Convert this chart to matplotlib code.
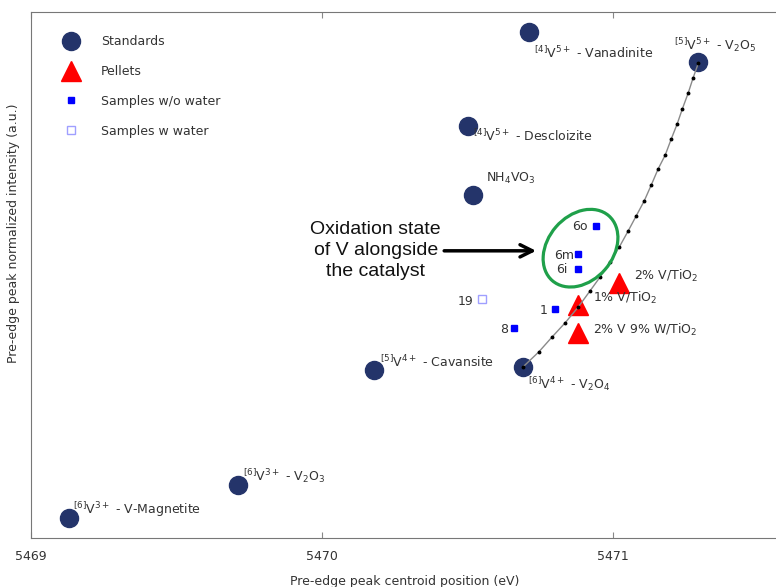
import numpy as np
import matplotlib
matplotlib.use('Agg')
import matplotlib.pyplot as plt
from matplotlib.patches import Ellipse
from matplotlib import transforms

# standards
std_x = [5469.13, 5469.71, 5470.18, 5470.69, 5470.52, 5470.50, 5470.71, 5471.29]
std_y = [0.038, 0.101, 0.319, 0.325, 0.652, 0.783, 0.962, 0.905]
std_labels = [r'$^{[6]}$V$^{3+}$ - V-Magnetite',
              r'$^{[6]}$V$^{3+}$ - V$_2$O$_3$',
              r'$^{[5]}$V$^{4+}$ - Cavansite',
              r'$^{[6]}$V$^{4+}$ - V$_2$O$_4$',
              r'NH$_4$VO$_3$',
              r'$^{[4]}$V$^{5+}$ - Descloizite',
              r'$^{[4]}$V$^{5+}$ - Vanadinite',
              r'$^{[5]}$V$^{5+}$ - V$_2$O$_5$']
std_off = [(3, 6), (4, 6.5), (4, 6), (4, -12), (9, 12), (4, -7), (3.6, -15), (-17, 12)]

# pellets
pel_x = [5471.02, 5470.88, 5470.88]
pel_y = [0.485, 0.443, 0.390]
pel_labels = [r'2% V/TiO$_2$', r'1% V/TiO$_2$', r'2% V 9% W/TiO$_2$']
pel_off = [(11, 5), (11, 5), (11, 2)]

# samples without water
smp_x = [5470.94, 5470.88, 5470.88, 5470.80, 5470.66]
smp_y = [0.593, 0.540, 0.511, 0.435, 0.399]
smp_labels = ['6o', '6m', '6i', '1', '8']
smp_off = [(-6, 0), (-3, -1), (-8, 0), (-5, -1), (-4, -1)]

# samples with water
wat_x = [5470.55]
wat_y = [0.454]
wat_labels = ['19']
wat_off = [(-6, -2)]

# mixing curve V2O4 -> V2O5
mix_x = [5470.690, 5470.745, 5470.790, 5470.835, 5470.880, 5470.921, 5470.955,
         5470.990, 5471.021, 5471.052, 5471.079, 5471.107, 5471.131, 5471.155,
         5471.179, 5471.200, 5471.220, 5471.238, 5471.258, 5471.275, 5471.293]
mix_y = [0.325, 0.354, 0.382, 0.409, 0.439, 0.470, 0.496, 0.525, 0.553, 0.584,
         0.612, 0.641, 0.671, 0.702, 0.728, 0.759, 0.787, 0.816, 0.846, 0.875, 0.903]

txt_col = '#333333'
plt.rcParams['font.family'] = ['DejaVu Sans']
plt.rcParams['font.size'] = 9

fig = plt.figure(figsize=(7.76, 5.87), dpi=100)
ax = fig.add_axes([0.040, 0.0835, 0.962, 0.896])

ax.plot(std_x, std_y, 'o', color='#24346a', markersize=13, linestyle='none',
        label='Standards', zorder=3)
ax.plot(pel_x, pel_y, '^', color='#ff0000', markersize=14, linestyle='none',
        label='Pellets', zorder=3)
ax.plot(smp_x, smp_y, 's', color='#0000ff', markersize=4.5, linestyle='none',
        label='Samples w/o water', zorder=3)
ax.plot(wat_x, wat_y, 's', markerfacecolor='white', markeredgecolor='#9f9fff',
        markersize=6, linestyle='none', label='Samples w water', zorder=3)
ax.plot(mix_x, mix_y, color='#8a8a8a', lw=1, marker='o', markersize=1.8,
        markerfacecolor='black', markeredgecolor='black', zorder=4)

for xs, ys, labs, offs, ha in [(std_x, std_y, std_labels, std_off, 'left'),
                               (pel_x, pel_y, pel_labels, pel_off, 'left'),
                               (smp_x, smp_y, smp_labels, smp_off, 'right'),
                               (wat_x, wat_y, wat_labels, wat_off, 'right')]:
    for x, y, lab, off in zip(xs, ys, labs, offs):
        ax.annotate(lab, (x, y), xytext=off, textcoords='offset points',
                    ha=ha, va='center', color=txt_col, fontsize=9, zorder=5)

# green ellipse around samples 6
tr = fig.dpi_scale_trans + transforms.ScaledTranslation(5470.888, 0.551, ax.transData)
ax.add_patch(Ellipse((0, 0), 0.86, 0.65, angle=49, fill=False,
                     edgecolor='#1fa04a', lw=2.3, transform=tr, zorder=5))

ax.annotate('', xy=(5470.745, 0.546), xytext=(5470.41, 0.546),
            arrowprops=dict(arrowstyle='->', lw=2.5, color='black',
                            mutation_scale=22))
ax.text(5470.184, 0.546, 'Oxidation state\nof V alongside\nthe catalyst',
        ha='center', va='center', fontsize=14, family='Liberation Sans',
        linespacing=1.32, color='#111111')

ax.set_xlim(5469, 5471.565)
ax.set_ylim(0, 1)
ax.set_xticks([5469, 5470, 5471])
ax.set_yticks([])
ax.tick_params(axis='x', direction='in', length=4, color='#888888',
               top=True, labelcolor=txt_col, labelsize=9, pad=9)
for s in ['left', 'bottom', 'top']:
    ax.spines[s].set_color('#777777')
ax.spines['right'].set_visible(False)

ax.set_xlabel('Pre-edge peak centroid position (eV)', color=txt_col, fontsize=9,
              labelpad=8)
ax.set_ylabel('Pre-edge peak normalized intensity (a.u.)', color=txt_col, fontsize=9)
ax.yaxis.set_label_coords(-0.015, 0.58)

ax.legend(loc='upper left', bbox_to_anchor=(0.02, 0.98), frameon=False,
          labelspacing=1.35, handletextpad=1.4, borderpad=0.5,
          labelcolor=txt_col, fontsize=9, numpoints=1)

fig.savefig('out.png', dpi=100)
